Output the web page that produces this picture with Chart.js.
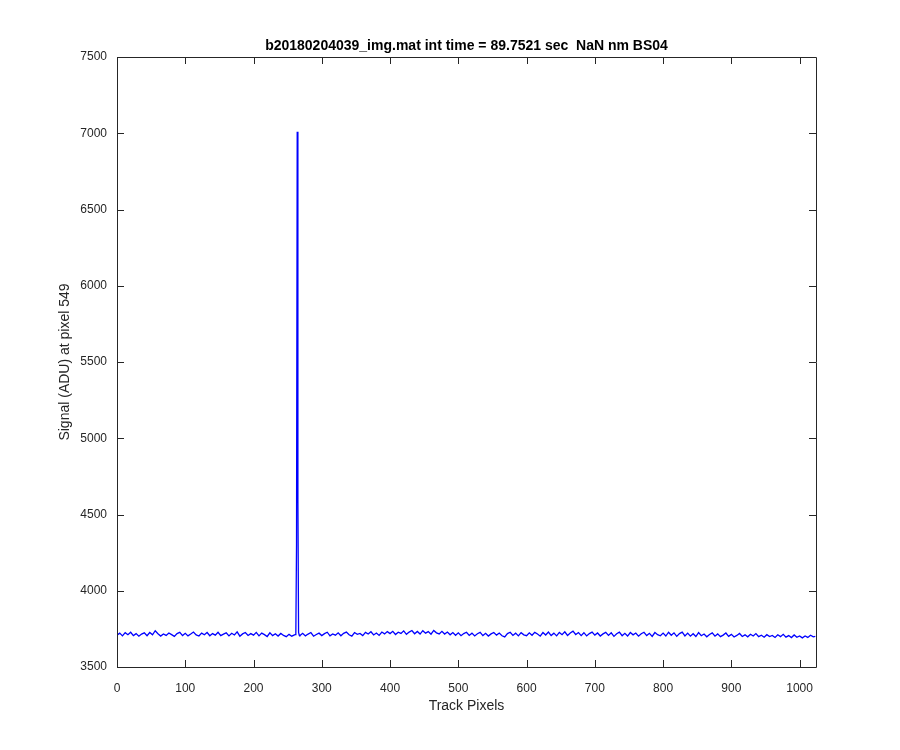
<!DOCTYPE html>
<html>
<head>
<meta charset="UTF-8">
<title>Track pixels</title>
<script src="https://cdn.jsdelivr.net/npm/chart.js"></script>
<style>
  body { margin: 0; background: #ffffff; }
  canvas { display: block; }
</style>
</head>
<body>
<canvas id="grafico" width="900" height="750"></canvas>
<script>
// baseline read every 4 track pixels (x = 0, 4, 8, ...)
const gridStep = 4;
const baseline = [
  3709,3722,3704,3725,3712,3728,3706,3719,3702,3716,
  3724,3705,3726,3711,3738,3718,3703,3717,3707,3723,
  3712,3701,3719,3727,3706,3721,3704,3716,3729,3710,
  3703,3722,3711,3726,3705,3719,3709,3728,3706,3716,
  3724,3704,3721,3710,3730,3702,3717,3726,3707,3719,
  3709,3727,3704,3722,3712,3700,3724,3706,3718,3703,
  3720,3707,3699,3714,3702,3711,null,3706,3721,3704,
  3716,3726,3702,3713,3722,3706,3719,3728,3704,3717,
  3709,3724,3705,3721,3729,3711,3702,3726,3714,3720,
  3706,3727,3716,3731,3710,3723,3707,3729,3717,3732,
  3719,3734,3713,3728,3720,3737,3714,3729,3739,3718,
  3733,3716,3738,3722,3732,3715,3740,3724,3717,3734,
  3716,3729,3711,3726,3708,3724,3705,3719,3728,3707,
  3722,3704,3718,3727,3706,3721,3703,3717,3726,3709,
  3723,3705,3697,3719,3728,3707,3722,3704,3725,3711,
  3705,3724,3708,3727,3716,3702,3726,3710,3729,3706,
  3722,3704,3727,3712,3731,3707,3723,3735,3713,3726,
  3706,3725,3704,3719,3729,3709,3723,3703,3717,3727,
  3707,3724,3701,3718,3729,3705,3721,3703,3726,3711,
  3723,3702,3718,3728,3706,3721,3701,3726,3712,3705,
  3722,3703,3728,3708,3724,3701,3719,3729,3704,3722,
  3702,3718,3700,3726,3705,3716,3698,3713,3724,3702,
  3717,3699,3709,3723,3701,3714,3697,3707,3720,3700,
  3711,3698,3715,3703,3719,3699,3708,3695,3712,3700,
  3707,3694,3711,3699,3714,3696,3706,3693,3710,3695,
  3704,3691,3703,3694,3708,3698
];
// the peak near pixel 264, read pixel by pixel
const spikePixels = [261, 262, 263, 264, 265, 266, 267];
const spikeSignal = [3712, 3724, 4300, 7010, 4600, 3726, 3708];
const lastPixel = 1023;
const lastSignal = 3701;

const xTicks = [0, 100, 200, 300, 400, 500, 600, 700, 800, 900, 1000];
const yTicks = [3500, 4000, 4500, 5000, 5500, 6000, 6500, 7000, 7500];

const titleText = 'b20180204039_img.mat int time = 89.7521 sec  NaN nm BS04';
const xTitle = 'Track Pixels';
const yTitle = 'Signal (ADU) at pixel 549';

let pts = [];
baseline.forEach((v, i) => { if (v !== null) pts.push({ x: i * gridStep, y: v }); });
spikePixels.forEach((p, i) => pts.push({ x: p, y: spikeSignal[i] }));
pts.push({ x: lastPixel, y: lastSignal });
pts.sort((a, b) => a.x - b.x);

const axisColor = '#262626';
const fontFamily = '"Liberation Sans", Arial, sans-serif';

const matlabBox = {
  id: 'matlabBox',
  afterDraw(chart) {
    const ctx = chart.ctx;
    const a = chart.chartArea;
    const xs = chart.scales.x, ys = chart.scales.y;
    const tl = 7;
    ctx.save();
    ctx.strokeStyle = axisColor;
    ctx.lineWidth = 1;
    ctx.beginPath();
    ctx.rect(Math.round(a.left) + 0.5, Math.round(a.top) + 0.5,
             Math.round(a.right - a.left), Math.round(a.bottom - a.top));
    ctx.stroke();
    ctx.beginPath();
    xTicks.forEach(t => {
      const px = Math.round(xs.getPixelForValue(t)) + 0.5;
      ctx.moveTo(px, a.bottom); ctx.lineTo(px, a.bottom - tl);
      ctx.moveTo(px, a.top); ctx.lineTo(px, a.top + tl);
    });
    yTicks.forEach(t => {
      const py = Math.round(ys.getPixelForValue(t)) + 0.5;
      ctx.moveTo(a.left, py); ctx.lineTo(a.left + tl, py);
      ctx.moveTo(a.right, py); ctx.lineTo(a.right - tl, py);
    });
    ctx.stroke();

    ctx.fillStyle = '#000000';
    ctx.textAlign = 'center';
    ctx.textBaseline = 'alphabetic';
    ctx.font = 'bold 14px ' + fontFamily;
    ctx.fillText(titleText, (a.left + a.right) / 2, 50);

    ctx.fillStyle = axisColor;
    ctx.font = '14px ' + fontFamily;
    ctx.fillText(xTitle, (a.left + a.right) / 2, 710);
    ctx.translate(69, (a.top + a.bottom) / 2);
    ctx.rotate(-Math.PI / 2);
    ctx.fillText(yTitle, 0, 0);
    ctx.restore();
  }
};

new Chart(document.getElementById('grafico'), {
  type: 'line',
  data: {
    datasets: [{
      data: pts,
      borderColor: '#0000ff',
      borderWidth: 1.3,
      pointRadius: 0,
      tension: 0,
      fill: false
    }]
  },
  options: {
    responsive: false,
    animation: false,
    layout: { padding: { top: 57, right: 84, left: 0, bottom: 0 } },
    plugins: { legend: { display: false }, tooltip: { enabled: false } },
    scales: {
      x: {
        type: 'linear',
        min: 0,
        max: 1024,
        afterBuildTicks(s) { s.ticks = xTicks.map(v => ({ value: v })); },
        afterFit(s) { s.height = 83; },
        grid: { display: false },
        border: { display: false },
        ticks: { color: axisColor, padding: 6, maxRotation: 0,
                 callback: v => String(v),
                 font: { family: fontFamily, size: 12 } }
      },
      y: {
        min: 3500,
        max: 7500,
        afterBuildTicks(s) { s.ticks = yTicks.map(v => ({ value: v })); },
        afterFit(s) { s.width = 117; },
        grid: { display: false },
        border: { display: false },
        ticks: { color: axisColor, padding: 2,
                 callback: v => String(v),
                 font: { family: fontFamily, size: 12 } }
      }
    }
  },
  plugins: [matlabBox]
});
</script>
</body>
</html>
